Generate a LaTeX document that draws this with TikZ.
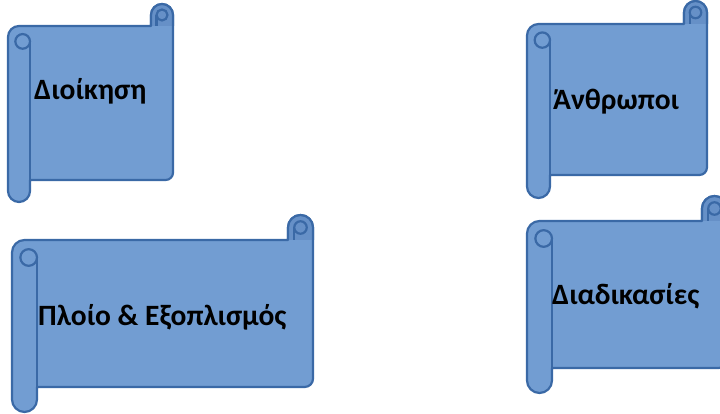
\documentclass[tikz,border=0pt]{standalone}
\usepackage{fontspec}
\setmainfont{Carlito}
\usepackage{xcolor}
\usetikzlibrary{positioning}
\definecolor{scrollfill}{HTML}{729DD2}
\definecolor{scrolledge}{HTML}{3A69A6}
\definecolor{curlfill}{HTML}{6690C7}

\newcommand{\scrollshape}[5]{%
  \filldraw[scrollbody] (#1,{#4-1.5*#5}) arc[start angle=180, end angle=90, radius={#5/2*1pt}]
    -- ({#3-#5},{#4-#5}) -- ({#3-#5},{#4-#5/2}) arc[start angle=180, end angle=0, radius={#5/2*1pt}]
    -- (#3,{#2+#5+#5/3}) arc[start angle=0, end angle=-90, radius={#5/3*1pt}]
    -- ({#1+#5},{#2+#5}) -- ({#1+#5},{#2+#5/2}) arc[start angle=0, end angle=-180, radius={#5/2*1pt}]
    -- cycle;
  \filldraw[curl] ({#3-#5},{#4-#5}) -- ({#3-#5},{#4-#5/2}) arc[start angle=180, end angle=0, radius={#5/2*1pt}] -- (#3,{#4-#5});
  \draw[rollline] ({#1+#5},{#2+#5}) -- ({#1+#5},{#4-1.7*#5});
  \draw[rollline] ({#1+2*#5/3},{#4-1.7*#5}) circle[radius={#5/3*1pt}];
  \draw[rollline] ({#3-#5/2},{#4-#5/2}) circle[radius={#5/4*1pt}];
  \draw[rollline] ({#3-3*#5/4},{#4-#5/2}) -- ({#3-3*#5/4},{#4-#5});
}

\begin{document}
\begin{tikzpicture}[x=1pt, y=1pt,
  scrollbody/.style={fill=scrollfill, draw=scrolledge, line width=2.2pt, line join=round},
  curl/.style={fill=curlfill, draw=scrolledge, line width=2.2pt},
  rollline/.style={draw=scrolledge, line width=2.2pt},
  lbl/.style={font=\fontsize{29.5}{34}\selectfont\bfseries, inner sep=0pt, anchor=base west}
]
\path[use as bounding box, clip] (0,0) rectangle (720,414);

\scrollshape{8}{212}{173}{410}{22}
\scrollshape{527}{216}{707}{413}{23}
\scrollshape{12}{2}{313}{199}{25}
\scrollshape{527}{21}{727}{218}{25}

\node[lbl] (admin) at (34,314) {Διοίκηση};
\node[lbl] (people) at (553,304) {Άνθρωποι};
\node[lbl] (ship) at (38,88) {Πλοίο \& Εξοπλισμός};
\node[lbl] (procs) at (552,109) {Διαδικασίες};
\end{tikzpicture}
\end{document}
